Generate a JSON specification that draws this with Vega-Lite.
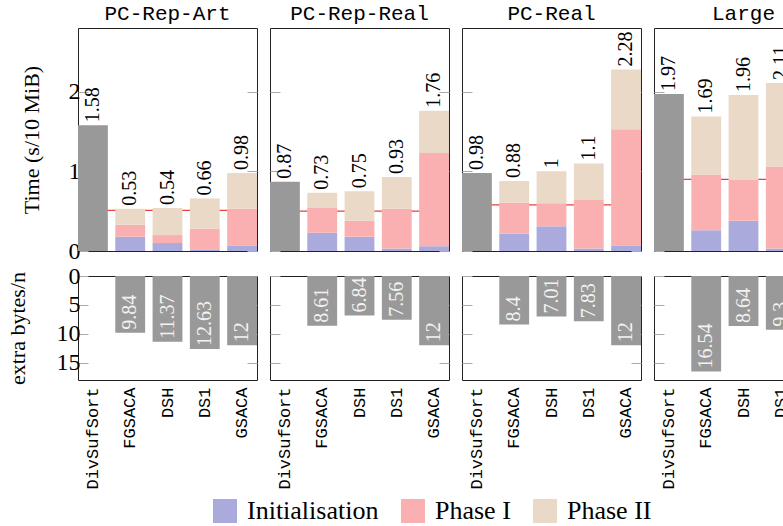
{
"$schema":"https://vega.github.io/schema/vega-lite/v6.json",
"padding":{"left":5,"top":2,"right":0,"bottom":0},
"datasets":{
"times":[
{"ds":"PC-Rep-Art","algo":"DivSufSort","part":"DivSufSort","time":1.58},
{"ds":"PC-Rep-Art","algo":"FGSACA","part":"Initialisation","time":0.18},
{"ds":"PC-Rep-Art","algo":"FGSACA","part":"Phase I","time":0.15},
{"ds":"PC-Rep-Art","algo":"FGSACA","part":"Phase II","time":0.20},
{"ds":"PC-Rep-Art","algo":"DSH","part":"Initialisation","time":0.10},
{"ds":"PC-Rep-Art","algo":"DSH","part":"Phase I","time":0.10},
{"ds":"PC-Rep-Art","algo":"DSH","part":"Phase II","time":0.34},
{"ds":"PC-Rep-Art","algo":"DS1","part":"Initialisation","time":0.02},
{"ds":"PC-Rep-Art","algo":"DS1","part":"Phase I","time":0.26},
{"ds":"PC-Rep-Art","algo":"DS1","part":"Phase II","time":0.38},
{"ds":"PC-Rep-Art","algo":"GSACA","part":"Initialisation","time":0.07},
{"ds":"PC-Rep-Art","algo":"GSACA","part":"Phase I","time":0.46},
{"ds":"PC-Rep-Art","algo":"GSACA","part":"Phase II","time":0.45},
{"ds":"PC-Rep-Real","algo":"DivSufSort","part":"DivSufSort","time":0.87},
{"ds":"PC-Rep-Real","algo":"FGSACA","part":"Initialisation","time":0.23},
{"ds":"PC-Rep-Real","algo":"FGSACA","part":"Phase I","time":0.31},
{"ds":"PC-Rep-Real","algo":"FGSACA","part":"Phase II","time":0.19},
{"ds":"PC-Rep-Real","algo":"DSH","part":"Initialisation","time":0.18},
{"ds":"PC-Rep-Real","algo":"DSH","part":"Phase I","time":0.20},
{"ds":"PC-Rep-Real","algo":"DSH","part":"Phase II","time":0.37},
{"ds":"PC-Rep-Real","algo":"DS1","part":"Initialisation","time":0.03},
{"ds":"PC-Rep-Real","algo":"DS1","part":"Phase I","time":0.50},
{"ds":"PC-Rep-Real","algo":"DS1","part":"Phase II","time":0.40},
{"ds":"PC-Rep-Real","algo":"GSACA","part":"Initialisation","time":0.06},
{"ds":"PC-Rep-Real","algo":"GSACA","part":"Phase I","time":1.17},
{"ds":"PC-Rep-Real","algo":"GSACA","part":"Phase II","time":0.53},
{"ds":"PC-Real","algo":"DivSufSort","part":"DivSufSort","time":0.98},
{"ds":"PC-Real","algo":"FGSACA","part":"Initialisation","time":0.22},
{"ds":"PC-Real","algo":"FGSACA","part":"Phase I","time":0.39},
{"ds":"PC-Real","algo":"FGSACA","part":"Phase II","time":0.27},
{"ds":"PC-Real","algo":"DSH","part":"Initialisation","time":0.31},
{"ds":"PC-Real","algo":"DSH","part":"Phase I","time":0.29},
{"ds":"PC-Real","algo":"DSH","part":"Phase II","time":0.40},
{"ds":"PC-Real","algo":"DS1","part":"Initialisation","time":0.03},
{"ds":"PC-Real","algo":"DS1","part":"Phase I","time":0.61},
{"ds":"PC-Real","algo":"DS1","part":"Phase II","time":0.46},
{"ds":"PC-Real","algo":"GSACA","part":"Initialisation","time":0.07},
{"ds":"PC-Real","algo":"GSACA","part":"Phase I","time":1.46},
{"ds":"PC-Real","algo":"GSACA","part":"Phase II","time":0.75},
{"ds":"Large","algo":"DivSufSort","part":"DivSufSort","time":1.97},
{"ds":"Large","algo":"FGSACA","part":"Initialisation","time":0.26},
{"ds":"Large","algo":"FGSACA","part":"Phase I","time":0.70},
{"ds":"Large","algo":"FGSACA","part":"Phase II","time":0.73},
{"ds":"Large","algo":"DSH","part":"Initialisation","time":0.38},
{"ds":"Large","algo":"DSH","part":"Phase I","time":0.51},
{"ds":"Large","algo":"DSH","part":"Phase II","time":1.07},
{"ds":"Large","algo":"DS1","part":"Initialisation","time":0.03},
{"ds":"Large","algo":"DS1","part":"Phase I","time":1.03},
{"ds":"Large","algo":"DS1","part":"Phase II","time":1.05}
],
"totals":[
{"ds":"PC-Rep-Art","algo":"DivSufSort","total":1.58},
{"ds":"PC-Rep-Art","algo":"FGSACA","total":0.53},
{"ds":"PC-Rep-Art","algo":"DSH","total":0.54},
{"ds":"PC-Rep-Art","algo":"DS1","total":0.66},
{"ds":"PC-Rep-Art","algo":"GSACA","total":0.98},
{"ds":"PC-Rep-Real","algo":"DivSufSort","total":0.87},
{"ds":"PC-Rep-Real","algo":"FGSACA","total":0.73},
{"ds":"PC-Rep-Real","algo":"DSH","total":0.75},
{"ds":"PC-Rep-Real","algo":"DS1","total":0.93},
{"ds":"PC-Rep-Real","algo":"GSACA","total":1.76},
{"ds":"PC-Real","algo":"DivSufSort","total":0.98},
{"ds":"PC-Real","algo":"FGSACA","total":0.88},
{"ds":"PC-Real","algo":"DSH","total":1},
{"ds":"PC-Real","algo":"DS1","total":1.1},
{"ds":"PC-Real","algo":"GSACA","total":2.28},
{"ds":"Large","algo":"DivSufSort","total":1.97},
{"ds":"Large","algo":"FGSACA","total":1.69},
{"ds":"Large","algo":"DSH","total":1.96},
{"ds":"Large","algo":"DS1","total":2.11}
],
"refs":[
{"ds":"PC-Rep-Art","ref":0.51},
{"ds":"PC-Rep-Real","ref":0.50},
{"ds":"PC-Real","ref":0.58},
{"ds":"Large","ref":0.90}
],
"mem":[
{"ds":"PC-Rep-Art","algo":"FGSACA","mem":9.84},
{"ds":"PC-Rep-Art","algo":"DSH","mem":11.37},
{"ds":"PC-Rep-Art","algo":"DS1","mem":12.63},
{"ds":"PC-Rep-Art","algo":"GSACA","mem":12},
{"ds":"PC-Rep-Real","algo":"FGSACA","mem":8.61},
{"ds":"PC-Rep-Real","algo":"DSH","mem":6.84},
{"ds":"PC-Rep-Real","algo":"DS1","mem":7.56},
{"ds":"PC-Rep-Real","algo":"GSACA","mem":12},
{"ds":"PC-Real","algo":"FGSACA","mem":8.4},
{"ds":"PC-Real","algo":"DSH","mem":7.01},
{"ds":"PC-Real","algo":"DS1","mem":7.83},
{"ds":"PC-Real","algo":"GSACA","mem":12},
{"ds":"Large","algo":"FGSACA","mem":16.54},
{"ds":"Large","algo":"DSH","mem":8.64},
{"ds":"Large","algo":"DS1","mem":9.3}
]
},
"columns":4,
"spacing":{"row":25,"column":13},
"bounds":"flush",
"concat":[
{"title":"PC-Rep-Art","width":179,"height":223,
"layer":[
{"data":{"name":"refs"},"transform":[{"filter":"datum.ds === 'PC-Rep-Art'"}],"mark":{"type":"rule","color":"#e8413c","strokeWidth":1.3},
"encoding":{"y":{"field":"ref","type":"quantitative","scale":{"domain":[0,2.8]},"axis":{"orient":"right","labels":false,"title":null,"values":[0,1,2],"tickSize":-10}}}},
{"data":{"name":"times"},"transform":[{"filter":"datum.ds === 'PC-Rep-Art'"}],"mark":{"type":"bar"},
"encoding":{"x":{"field":"algo","type":"nominal","scale":{"domain":["DivSufSort","FGSACA","DSH","DS1","GSACA"],"paddingInner":0.2,"paddingOuter":0},"axis":null},
"y":{"field":"time","type":"quantitative","stack":"zero","axis":{"title":"Time (s/10 MiB)","values":[0,1,2],"tickSize":-10,"labelPadding":8,"titlePadding":25}},
"order":{"field":"part","type":"nominal","sort":"ascending"},
"color":{"field":"part","type":"nominal","scale":{"domain":["DivSufSort","Initialisation","Phase I","Phase II"],"range":["#999999","#aaaadd","#fab0b0","#ead9c6"]},"legend":{"values":["Initialisation","Phase I","Phase II"],"title":null,"orient":"none","direction":"horizontal","legendX":134,"legendY":470}}}},
{"data":{"name":"totals"},"transform":[{"filter":"datum.ds === 'PC-Rep-Art'"}],"mark":{"type":"text","angle":270,"align":"left","baseline":"middle","dx":3,"fontSize":20},
"encoding":{"x":{"field":"algo","type":"nominal","scale":{"domain":["DivSufSort","FGSACA","DSH","DS1","GSACA"],"paddingInner":0.2,"paddingOuter":0},"axis":null},
"y":{"field":"total","type":"quantitative","axis":null},"text":{"field":"total","type":"quantitative"}}}
],
"resolve":{"axis":{"y":"independent"}}},
{"title":"PC-Rep-Real","width":179,"height":223,
"layer":[
{"data":{"name":"refs"},"transform":[{"filter":"datum.ds === 'PC-Rep-Real'"}],"mark":{"type":"rule","color":"#e8413c","strokeWidth":1.3},
"encoding":{"y":{"field":"ref","type":"quantitative","scale":{"domain":[0,2.8]},"axis":{"orient":"right","labels":false,"title":null,"values":[0,1,2],"tickSize":-10}}}},
{"data":{"name":"times"},"transform":[{"filter":"datum.ds === 'PC-Rep-Real'"}],"mark":{"type":"bar"},
"encoding":{"x":{"field":"algo","type":"nominal","scale":{"domain":["DivSufSort","FGSACA","DSH","DS1","GSACA"],"paddingInner":0.2,"paddingOuter":0},"axis":null},
"y":{"field":"time","type":"quantitative","stack":"zero","axis":{"title":null,"labels":false,"values":[0,1,2],"tickSize":-10}},
"order":{"field":"part","type":"nominal","sort":"ascending"},
"color":{"field":"part","type":"nominal","scale":{"domain":["DivSufSort","Initialisation","Phase I","Phase II"],"range":["#999999","#aaaadd","#fab0b0","#ead9c6"]},"legend":{"values":["Initialisation","Phase I","Phase II"],"title":null,"orient":"none","direction":"horizontal","legendX":134,"legendY":470}}}},
{"data":{"name":"totals"},"transform":[{"filter":"datum.ds === 'PC-Rep-Real'"}],"mark":{"type":"text","angle":270,"align":"left","baseline":"middle","dx":3,"fontSize":20},
"encoding":{"x":{"field":"algo","type":"nominal","scale":{"domain":["DivSufSort","FGSACA","DSH","DS1","GSACA"],"paddingInner":0.2,"paddingOuter":0},"axis":null},
"y":{"field":"total","type":"quantitative","axis":null},"text":{"field":"total","type":"quantitative"}}}
],
"resolve":{"axis":{"y":"independent"}}},
{"title":"PC-Real","width":179,"height":223,
"layer":[
{"data":{"name":"refs"},"transform":[{"filter":"datum.ds === 'PC-Real'"}],"mark":{"type":"rule","color":"#e8413c","strokeWidth":1.3},
"encoding":{"y":{"field":"ref","type":"quantitative","scale":{"domain":[0,2.8]},"axis":{"orient":"right","labels":false,"title":null,"values":[0,1,2],"tickSize":-10}}}},
{"data":{"name":"times"},"transform":[{"filter":"datum.ds === 'PC-Real'"}],"mark":{"type":"bar"},
"encoding":{"x":{"field":"algo","type":"nominal","scale":{"domain":["DivSufSort","FGSACA","DSH","DS1","GSACA"],"paddingInner":0.2,"paddingOuter":0},"axis":null},
"y":{"field":"time","type":"quantitative","stack":"zero","axis":{"title":null,"labels":false,"values":[0,1,2],"tickSize":-10}},
"order":{"field":"part","type":"nominal","sort":"ascending"},
"color":{"field":"part","type":"nominal","scale":{"domain":["DivSufSort","Initialisation","Phase I","Phase II"],"range":["#999999","#aaaadd","#fab0b0","#ead9c6"]},"legend":{"values":["Initialisation","Phase I","Phase II"],"title":null,"orient":"none","direction":"horizontal","legendX":134,"legendY":470}}}},
{"data":{"name":"totals"},"transform":[{"filter":"datum.ds === 'PC-Real'"}],"mark":{"type":"text","angle":270,"align":"left","baseline":"middle","dx":3,"fontSize":20},
"encoding":{"x":{"field":"algo","type":"nominal","scale":{"domain":["DivSufSort","FGSACA","DSH","DS1","GSACA"],"paddingInner":0.2,"paddingOuter":0},"axis":null},
"y":{"field":"total","type":"quantitative","axis":null},"text":{"field":"total","type":"quantitative"}}}
],
"resolve":{"axis":{"y":"independent"}}},
{"title":"Large","width":179,"height":223,
"layer":[
{"data":{"name":"refs"},"transform":[{"filter":"datum.ds === 'Large'"}],"mark":{"type":"rule","color":"#e8413c","strokeWidth":1.3},
"encoding":{"y":{"field":"ref","type":"quantitative","scale":{"domain":[0,2.8]},"axis":{"orient":"right","labels":false,"title":null,"values":[0,1,2],"tickSize":-10}}}},
{"data":{"name":"times"},"transform":[{"filter":"datum.ds === 'Large'"}],"mark":{"type":"bar"},
"encoding":{"x":{"field":"algo","type":"nominal","scale":{"domain":["DivSufSort","FGSACA","DSH","DS1","GSACA"],"paddingInner":0.2,"paddingOuter":0},"axis":null},
"y":{"field":"time","type":"quantitative","stack":"zero","axis":{"title":null,"labels":false,"values":[0,1,2],"tickSize":-10}},
"order":{"field":"part","type":"nominal","sort":"ascending"},
"color":{"field":"part","type":"nominal","scale":{"domain":["DivSufSort","Initialisation","Phase I","Phase II"],"range":["#999999","#aaaadd","#fab0b0","#ead9c6"]},"legend":{"values":["Initialisation","Phase I","Phase II"],"title":null,"orient":"none","direction":"horizontal","legendX":134,"legendY":470}}}},
{"data":{"name":"totals"},"transform":[{"filter":"datum.ds === 'Large'"}],"mark":{"type":"text","angle":270,"align":"left","baseline":"middle","dx":3,"fontSize":20},
"encoding":{"x":{"field":"algo","type":"nominal","scale":{"domain":["DivSufSort","FGSACA","DSH","DS1","GSACA"],"paddingInner":0.2,"paddingOuter":0},"axis":null},
"y":{"field":"total","type":"quantitative","axis":null},"text":{"field":"total","type":"quantitative"}}}
],
"resolve":{"axis":{"y":"independent"}}},
{"width":179,"height":104,
"layer":[
{"data":{"name":"mem"},"transform":[{"filter":"datum.ds === 'PC-Rep-Art'"}],"mark":{"type":"bar","color":"#999999"},
"encoding":{"x":{"field":"algo","type":"nominal","scale":{"domain":["DivSufSort","FGSACA","DSH","DS1","GSACA"],"paddingInner":0.2,"paddingOuter":0},"axis":{"title":null,"labelAngle":-90,"labelPadding":7,"ticks":false,"domain":false}},
"y":{"field":"mem","type":"quantitative","scale":{"domain":[0,17],"reverse":true},"axis":{"title":"extra bytes/n","values":[0,5,10,15],"tickSize":-10,"labelPadding":8,"titlePadding":27}}}},
{"data":{"name":"mem"},"transform":[{"filter":"datum.ds === 'PC-Rep-Art'"}],"mark":{"type":"text","angle":270,"align":"left","baseline":"middle","dx":3,"fontSize":20,"color":"#f2f2f2"},
"encoding":{"x":{"field":"algo","type":"nominal","scale":{"domain":["DivSufSort","FGSACA","DSH","DS1","GSACA"],"paddingInner":0.2,"paddingOuter":0},"axis":{"title":null,"labelAngle":-90,"labelPadding":7,"ticks":false,"domain":false}},
"y":{"field":"mem","type":"quantitative","axis":{"orient":"right","labels":false,"title":null,"values":[0,5,10,15],"tickSize":-10}},"text":{"field":"mem","type":"quantitative"}}}
],
"resolve":{"axis":{"y":"independent"}}},
{"width":179,"height":104,
"layer":[
{"data":{"name":"mem"},"transform":[{"filter":"datum.ds === 'PC-Rep-Real'"}],"mark":{"type":"bar","color":"#999999"},
"encoding":{"x":{"field":"algo","type":"nominal","scale":{"domain":["DivSufSort","FGSACA","DSH","DS1","GSACA"],"paddingInner":0.2,"paddingOuter":0},"axis":{"title":null,"labelAngle":-90,"labelPadding":7,"ticks":false,"domain":false}},
"y":{"field":"mem","type":"quantitative","scale":{"domain":[0,17],"reverse":true},"axis":{"title":null,"labels":false,"values":[0,5,10,15],"tickSize":-10}}}},
{"data":{"name":"mem"},"transform":[{"filter":"datum.ds === 'PC-Rep-Real'"}],"mark":{"type":"text","angle":270,"align":"left","baseline":"middle","dx":3,"fontSize":20,"color":"#f2f2f2"},
"encoding":{"x":{"field":"algo","type":"nominal","scale":{"domain":["DivSufSort","FGSACA","DSH","DS1","GSACA"],"paddingInner":0.2,"paddingOuter":0},"axis":{"title":null,"labelAngle":-90,"labelPadding":7,"ticks":false,"domain":false}},
"y":{"field":"mem","type":"quantitative","axis":{"orient":"right","labels":false,"title":null,"values":[0,5,10,15],"tickSize":-10}},"text":{"field":"mem","type":"quantitative"}}}
],
"resolve":{"axis":{"y":"independent"}}},
{"width":179,"height":104,
"layer":[
{"data":{"name":"mem"},"transform":[{"filter":"datum.ds === 'PC-Real'"}],"mark":{"type":"bar","color":"#999999"},
"encoding":{"x":{"field":"algo","type":"nominal","scale":{"domain":["DivSufSort","FGSACA","DSH","DS1","GSACA"],"paddingInner":0.2,"paddingOuter":0},"axis":{"title":null,"labelAngle":-90,"labelPadding":7,"ticks":false,"domain":false}},
"y":{"field":"mem","type":"quantitative","scale":{"domain":[0,17],"reverse":true},"axis":{"title":null,"labels":false,"values":[0,5,10,15],"tickSize":-10}}}},
{"data":{"name":"mem"},"transform":[{"filter":"datum.ds === 'PC-Real'"}],"mark":{"type":"text","angle":270,"align":"left","baseline":"middle","dx":3,"fontSize":20,"color":"#f2f2f2"},
"encoding":{"x":{"field":"algo","type":"nominal","scale":{"domain":["DivSufSort","FGSACA","DSH","DS1","GSACA"],"paddingInner":0.2,"paddingOuter":0},"axis":{"title":null,"labelAngle":-90,"labelPadding":7,"ticks":false,"domain":false}},
"y":{"field":"mem","type":"quantitative","axis":{"orient":"right","labels":false,"title":null,"values":[0,5,10,15],"tickSize":-10}},"text":{"field":"mem","type":"quantitative"}}}
],
"resolve":{"axis":{"y":"independent"}}},
{"width":179,"height":104,
"layer":[
{"data":{"name":"mem"},"transform":[{"filter":"datum.ds === 'Large'"}],"mark":{"type":"bar","color":"#999999"},
"encoding":{"x":{"field":"algo","type":"nominal","scale":{"domain":["DivSufSort","FGSACA","DSH","DS1","GSACA"],"paddingInner":0.2,"paddingOuter":0},"axis":{"title":null,"labelAngle":-90,"labelPadding":7,"ticks":false,"domain":false}},
"y":{"field":"mem","type":"quantitative","scale":{"domain":[0,17],"reverse":true},"axis":{"title":null,"labels":false,"values":[0,5,10,15],"tickSize":-10}}}},
{"data":{"name":"mem"},"transform":[{"filter":"datum.ds === 'Large'"}],"mark":{"type":"text","angle":270,"align":"left","baseline":"middle","dx":3,"fontSize":20,"color":"#f2f2f2"},
"encoding":{"x":{"field":"algo","type":"nominal","scale":{"domain":["DivSufSort","FGSACA","DSH","DS1","GSACA"],"paddingInner":0.2,"paddingOuter":0},"axis":{"title":null,"labelAngle":-90,"labelPadding":7,"ticks":false,"domain":false}},
"y":{"field":"mem","type":"quantitative","axis":{"orient":"right","labels":false,"title":null,"values":[0,5,10,15],"tickSize":-10}},"text":{"field":"mem","type":"quantitative"}}}
],
"resolve":{"axis":{"y":"independent"}}}
],
"config":{
"font":"Liberation Serif",
"view":{"stroke":"#222222","strokeWidth":1},
"axis":{"labelFont":"Liberation Serif","labelFontSize":24,"labelColor":"#000000","titleFont":"Liberation Serif","titleFontSize":22,"titleFontWeight":"normal","titleColor":"#000000","grid":false,"domain":false,"tickColor":"#aaaaaa","tickWidth":1},
"axisX":{"labelFont":"Liberation Mono","labelFontSize":17},
"title":{"font":"Liberation Mono","fontSize":21,"fontWeight":"normal","color":"#000000","offset":4},
"text":{"font":"Liberation Serif","color":"#000000"},
"legend":{"symbolType":"square","symbolSize":576,"symbolStrokeWidth":0,"symbolOpacity":1,"labelFont":"Liberation Serif","labelFontSize":26,"labelColor":"#000000","labelOffset":9,"columnPadding":21,"padding":0}
}
}
